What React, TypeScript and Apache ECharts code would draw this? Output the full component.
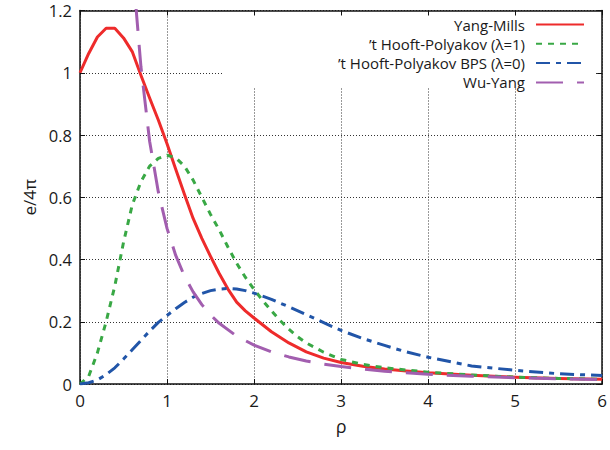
import React, { useEffect, useRef } from 'react';
import * as echarts from 'echarts';

// Yang-Mills
const ymRho = [0, 0.1, 0.2, 0.3, 0.4, 0.5, 0.6, 0.7, 0.8, 0.9, 1.0, 1.1, 1.2, 1.3, 1.4, 1.5, 1.6, 1.7, 1.8, 1.9, 2.0, 2.2, 2.4, 2.6, 2.8, 3.0, 3.25, 3.5, 3.75, 4.0, 4.5, 5.0, 5.5, 6.0];
const ymVal = [1.0, 1.062, 1.115, 1.143, 1.143, 1.112, 1.068, 0.992, 0.919, 0.848, 0.772, 0.69, 0.61, 0.532, 0.468, 0.41, 0.355, 0.305, 0.263, 0.235, 0.212, 0.168, 0.132, 0.103, 0.083, 0.069, 0.057, 0.048, 0.042, 0.036, 0.028, 0.022, 0.018, 0.015];

// 't Hooft-Polyakov (lambda=1)
const hpRho = [0, 0.1, 0.2, 0.3, 0.4, 0.5, 0.6, 0.7, 0.8, 0.9, 1.0, 1.1, 1.2, 1.3, 1.4, 1.5, 1.6, 1.7, 1.8, 1.9, 2.0, 2.1, 2.2, 2.3, 2.4, 2.5, 2.6, 2.8, 3.0, 3.25, 3.5, 4.0, 4.5, 5.0, 5.5, 6.0];
const hpVal = [0, 0.025, 0.1, 0.2, 0.315, 0.455, 0.575, 0.65, 0.7, 0.725, 0.735, 0.727, 0.7, 0.655, 0.6, 0.545, 0.495, 0.44, 0.388, 0.343, 0.304, 0.268, 0.235, 0.204, 0.176, 0.152, 0.132, 0.102, 0.079, 0.063, 0.052, 0.038, 0.029, 0.022, 0.018, 0.015];

// 't Hooft-Polyakov BPS (lambda=0)
const bpsRho = [0, 0.1, 0.2, 0.3, 0.4, 0.5, 0.6, 0.7, 0.8, 0.9, 1.0, 1.1, 1.2, 1.3, 1.4, 1.5, 1.6, 1.7, 1.8, 1.9, 2.0, 2.2, 2.4, 2.6, 2.8, 3.0, 3.25, 3.5, 3.75, 4.0, 4.5, 5.0, 5.5, 6.0];
const bpsVal = [0, 0.004, 0.013, 0.03, 0.052, 0.08, 0.11, 0.14, 0.17, 0.198, 0.22, 0.242, 0.262, 0.279, 0.291, 0.3, 0.305, 0.307, 0.305, 0.3, 0.292, 0.272, 0.248, 0.223, 0.197, 0.172, 0.146, 0.124, 0.103, 0.086, 0.058, 0.044, 0.033, 0.027];

// Wu-Yang
const wyRho = [0.64, 0.7, 0.8, 0.9, 1.0, 1.1, 1.2, 1.3, 1.4, 1.5, 1.6, 1.8, 2.0, 2.2, 2.4, 2.6, 2.8, 3.0, 3.5, 4.0, 4.5, 5.0, 5.5, 6.0];
const wyVal = [1.221, 1.02, 0.78, 0.617, 0.5, 0.413, 0.347, 0.296, 0.255, 0.222, 0.195, 0.154, 0.125, 0.103, 0.087, 0.074, 0.064, 0.056, 0.041, 0.031, 0.025, 0.02, 0.017, 0.014];

const seriesNames = ['Yang-Mills', '\u2019t Hooft-Polyakov (\u03bb=1)', '\u2019t Hooft-Polyakov BPS (\u03bb=0)', 'Wu-Yang'];
const xTicks = { min: 0, max: 6, interval: 1 };
const yTicks = { min: 0, max: 1.2, interval: 0.2 };

const FONT = '"Open Sans", sans-serif';
const TXT = '#1a1a1a';

const pairs = (xs: number[], ys: number[]) => xs.map((x, i) => [x, ys[i]]);

export default function App() {
  const ref = useRef<HTMLDivElement>(null);
  useEffect(() => {
    const chart = echarts.init(ref.current!, null, { renderer: 'svg' });
    const frame = { show: true, onZero: false, lineStyle: { color: '#111', width: 1.5 } };
    const inTick = { show: true, inside: true, length: 5, lineStyle: { color: '#111', width: 1 } };
    const grid = { show: true, lineStyle: { type: [1, 2], color: '#333', width: 1 } };
    const mk = (name: string, data: number[][], color: string, type: any) => ({
      name,
      type: 'line',
      data,
      symbol: 'none',
      showSymbol: false,
      clip: true,
      lineStyle: { color, width: 3, type, cap: 'butt', join: 'round' },
      itemStyle: { color },
    });
    chart.setOption({
      animation: false,
      backgroundColor: '#fff',
      grid: { left: 80, right: 4, top: 10.5, bottom: 66 },
      xAxis: [
        {
          type: 'value', ...xTicks, position: 'bottom',
          name: '\u03c1', nameLocation: 'middle', nameGap: 33,
          nameTextStyle: { fontSize: 18, fontFamily: FONT, color: TXT },
          axisLine: frame, axisTick: inTick,
          axisLabel: { fontSize: 17, margin: 8, color: TXT, fontFamily: FONT },
          splitLine: grid,
        },
        {
          type: 'value', ...xTicks, position: 'top', z: 3,
          axisLine: frame, axisTick: inTick, axisLabel: { show: false }, splitLine: { show: false },
        },
      ],
      yAxis: [
        {
          type: 'value', ...yTicks, position: 'left',
          name: 'e/4\u03c0', nameLocation: 'middle', nameGap: 42, nameRotate: 90,
          nameTextStyle: { fontSize: 17, fontFamily: FONT, color: TXT },
          axisLine: frame, axisTick: inTick,
          axisLabel: { fontSize: 16.5, lineHeight: 16, margin: 8, color: TXT, fontFamily: FONT },
          splitLine: grid,
        },
        {
          type: 'value', ...yTicks, position: 'right', z: 3,
          axisLine: frame, axisTick: inTick, axisLabel: { show: false }, splitLine: { show: false },
        },
      ],
      graphic: [
        { type: 'rect', left: 223, top: 12, shape: { width: 372, height: 76 }, style: { fill: '#fff' }, z: 1 },
      ],
      legend: {
        orient: 'vertical',
        align: 'right',
        right: 25,
        top: 17,
        padding: 0,
        itemWidth: 48,
        itemHeight: 14,
        itemGap: 4.3,
        itemStyle: { color: 'rgba(0,0,0,0)', borderWidth: 0, opacity: 0 },
        textStyle: { fontSize: 15, fontFamily: FONT, color: TXT, padding: [0, 6, 0, 0] },
        data: seriesNames,
      },
      series: [
        mk(seriesNames[0], pairs(ymRho, ymVal), '#ee2b2b', 'solid'),
        mk(seriesNames[1], pairs(hpRho, hpVal), '#39a845', [6, 6]),
        mk(seriesNames[2], pairs(bpsRho, bpsVal), '#2155a8', [14, 6, 5, 6]),
        mk(seriesNames[3], pairs(wyRho, wyVal), '#a25eaf', [27, 14]),
      ],
    });
    return () => chart.dispose();
  }, []);
  return <div ref={ref} style={{ position: 'fixed', left: 0, top: 0, width: 610, height: 450, background: '#fff' }} />;
}
